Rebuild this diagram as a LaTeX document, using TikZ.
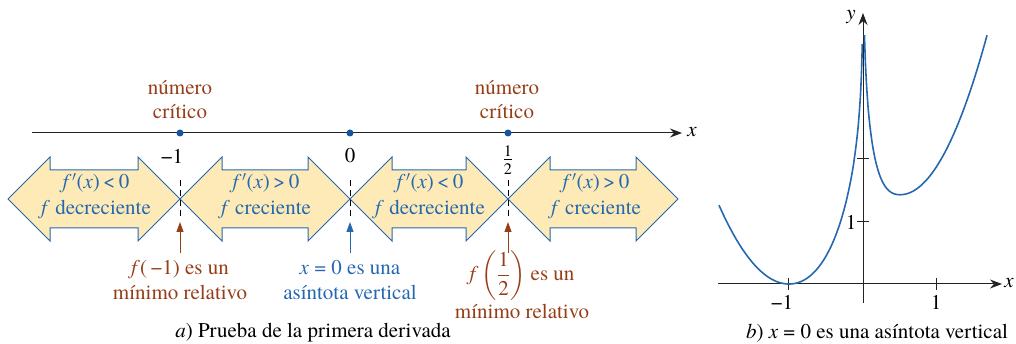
\documentclass[tikz,border=0pt]{standalone}
\usepackage{amsmath}
\usepackage{fontspec}
\setmainfont{texgyretermes}[Extension=.otf, UprightFont=*-regular, ItalicFont=*-italic, BoldFont=*-bold, BoldItalicFont=*-bolditalic]
\usetikzlibrary{arrows.meta}
\definecolor{bluec}{RGB}{38,104,176}
\definecolor{fillc}{RGB}{253,234,183}
\definecolor{brownc}{RGB}{150,62,24}
\definecolor{dotc}{RGB}{22,86,160}
\definecolor{axisc}{RGB}{35,35,35}
\newcommand\fprime{\textit{f}\kern0.5pt$'$}
\begin{document}
\begin{tikzpicture}[x=1pt,y=-1pt,
  every node/.style={font=\fontsize{21}{25}\selectfont, inner sep=0pt},
  blockarrow/.style={draw=bluec, fill=fillc, line width=1pt, line join=miter},
  blocktext/.style={text=bluec, align=center, font=\fontsize{21}{26}\selectfont},
  critlabel/.style={text=brownc, align=center, font=\fontsize{21}{24}\selectfont},
  notelabel/.style={align=center, font=\fontsize{21}{25}\selectfont},
  dotmark/.style={circle, fill=dotc, minimum size=7pt},
  divider/.style={dash pattern=on 6pt off 4pt, line width=0.8pt, black},
  upbrown/.style={-{Triangle[length=10pt,width=7pt]}, brownc, line width=1pt},
  upblue/.style={-{Triangle[length=10pt,width=7pt]}, bluec, line width=1pt},
  axisline/.style={axisc, line width=1pt, -{Stealth[length=12pt,width=9pt]}},
  tickline/.style={axisc, line width=1pt},
  curve/.style={bluec, line width=1.6pt},
]
\useasboundingbox (0,0) rectangle (1016,344);

% ---------- (a) number line ----------
\coordinate (nlL) at (32,133);
\coordinate (nlR) at (682,133);
\draw[axisline] (nlL) -- (nlR);
\node (nlx) at (692,132) {\textit{x}};

% block arrows
\foreach \xl/\xr in {8/180, 180/350, 350/508, 508/678}{
  \draw[blockarrow] (\xl,199) -- (\xl+42,157) -- (\xl+42,170) -- (\xr-42,170)
    -- (\xr-42,157) -- (\xr,199) -- (\xr-42,241) -- (\xr-42,228)
    -- (\xl+42,228) -- (\xl+42,241) -- cycle;
}
\node[blocktext] (b1) at (96,196) {\fprime(\textit{x})\,<\,0\\\textit{f} decreciente};
\node[blocktext] (b2) at (266,196) {\fprime(\textit{x})\,>\,0\\\textit{f} creciente};
\node[blocktext] (b3) at (430,196) {\fprime(\textit{x})\,<\,0\\\textit{f} decreciente};
\node[blocktext] (b4) at (596,196) {\fprime(\textit{x})\,>\,0\\\textit{f} creciente};

% dots and tick labels
\node[dotmark] (pm1) at (180,133) {};
\node[dotmark] (p0) at (350,133) {};
\node[dotmark] (ph) at (508,133) {};
\node (lm1) at (172,156) {−1};
\node (l0) at (350,156) {0};
\node[font=\fontsize{23}{25}\selectfont] (lh) at (508,160) {$\frac{\text{1}}{\text{2}}$};

\node[critlabel] (c1) at (180,100) {número\\crítico};
\node[critlabel] (c2) at (507,100) {número\\crítico};

% dividers
\coordinate (d1t) at (180,180); \coordinate (d1b) at (180,219);
\coordinate (d2t) at (350,180); \coordinate (d2b) at (350,219);
\coordinate (d3t) at (508,180); \coordinate (d3b) at (508,219);
\draw[divider] (d1t) -- (d1b);
\draw[divider] (d2t) -- (d2b);
\draw[divider] (d3t) -- (d3b);

% up arrows
\coordinate (a1s) at (180,253); \coordinate (a1e) at (180,222);
\coordinate (a2s) at (350,253); \coordinate (a2e) at (350,222);
\coordinate (a3s) at (508,253); \coordinate (a3e) at (508,222);
\draw[upbrown] (a1s) -- (a1e);
\draw[upblue] (a2s) -- (a2e);
\draw[upbrown] (a3s) -- (a3e);

\node[notelabel, text=brownc] (n1) at (180,280) {\textit{f}(\,−1) es un\\mínimo relativo};
\node[notelabel, text=bluec] (n2) at (350,280) {\textit{x} = 0 es una\\asíntota vertical};
\node[notelabel, text=brownc] (n3) at (522,285) {\textit{f}\,$\left(\dfrac{\text{1}}{\text{2}}\right)$ es un\\[3pt]mínimo relativo};

\node (capa) at (313,333) {\textit{a}) Prueba de la primera derivada};

% ---------- (b) graph ----------
\coordinate (gxl) at (718,284);
\coordinate (gxr) at (1002,284);
\coordinate (gyb) at (863,303);
\coordinate (gyt) at (863,13);
\draw[axisline] (gxl) -- (gxr);
\draw[axisline] (gyb) -- (gyt);
\node (gx) at (1009,283) {\textit{x}};
\node (gy) at (851,17) {\textit{y}};

\draw[tickline] (788,278) -- (788,290);
\draw[tickline] (936,278) -- (936,290);
\draw[tickline] (857,222) -- (869,222);
\draw[tickline] (857,159) -- (869,159);
\node (tm1) at (782,302) {−1};
\node (t1) at (936,302) {1};
\node (ty1) at (851,222) {1};

\begin{scope}[shift={(863,284)}, x=74pt, y=62pt]
  \draw[curve] plot[domain=-1.946:-0.008, samples=400]
    (\x, {(\x+1)^2*(1.42 + 0.55*max(0,-ln(-\x)))});
  \draw[curve] plot[domain=0.02:1.68, samples=400]
    (\x, {1.86*(\x-0.5)^2 + 1.44 + 2.9*(\x-0.5)^2*max(0,-ln(2*\x))});
\end{scope}

\node (capb) at (877,333) {\textit{b}) \textit{x} = 0 es una asíntota vertical};
\end{tikzpicture}
\end{document}
